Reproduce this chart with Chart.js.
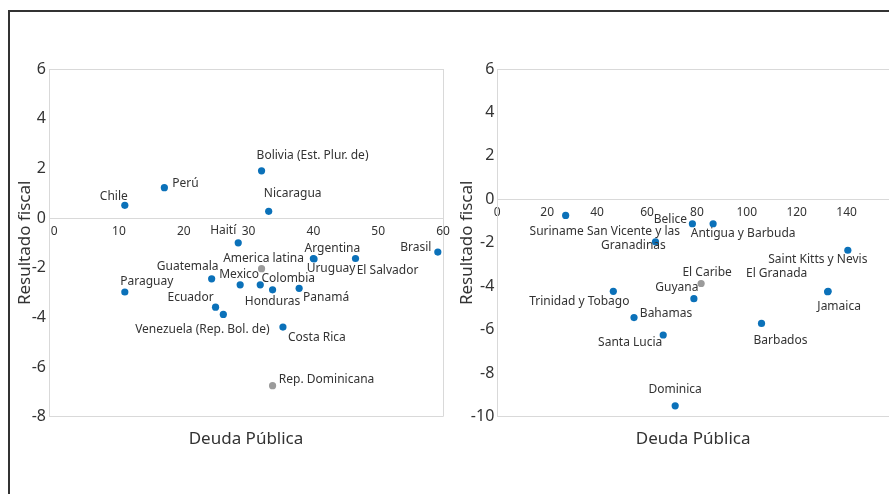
<!DOCTYPE html>
<html>
<head>
<meta charset="utf-8">
<script src="https://cdn.jsdelivr.net/npm/chart.js@4"></script>
<style>
  body { margin: 0; background: #fff; overflow: hidden; }
  #marco { position: absolute; left: 8px; top: 10px; width: 900px; height: 500px; border-top: 2px solid #333; border-left: 2px solid #333; }
  #c1 { position: absolute; left: 0; top: 0; }
  #c2 { position: absolute; left: 440px; top: 0; }
</style>
</head>
<body>
<div id="marco"></div>
<canvas id="c1" width="450" height="494"></canvas>
<canvas id="c2" width="449" height="494"></canvas>
<script>
// ===== America Latina =====
const laPaises = ["Chile", "Perú", "Bolivia (Est. Plur. de)", "Nicaragua", "Haití", "Argentina", "Uruguay",
  "El Salvador", "Brasil", "America latina", "Guatemala", "Mexico", "Colombia", "Honduras", "Panamá",
  "Paraguay", "Ecuador", "Venezuela (Rep. Bol. de)", "Costa Rica", "Rep. Dominicana"];
const laDeuda = [10.9, 17.0, 32.0, 33.1, 28.4, 40.0, 40.1, 46.5, 59.2, 32.0, 24.3, 28.7, 31.8, 33.7, 37.8,
  10.9, 24.9, 26.1, 35.3, 33.7];
const laResultado = [0.51, 1.22, 1.9, 0.27, -1.0, -1.63, -1.65, -1.63, -1.37, -2.04, -2.45, -2.69, -2.69, -2.89, -2.83,
  -2.98, -3.59, -3.88, -4.39, -6.75];

// ===== El Caribe =====
const carPaises = ["Suriname", "Belice", "Antigua y Barbuda", "San Vicente y las\nGranadinas", "Saint Kitts y Nevis",
  "El Caribe", "Guyana", "Trinidad y Tobago", "El Granada", "Jamaica", "Bahamas", "Barbados", "Santa Lucia", "Dominica"];
const carDeuda = [27.4, 78.2, 86.5, 63.4, 140.5, 81.7, 78.8, 46.5, 132.4, 132.6, 54.8, 105.9, 66.5, 71.3];
const carResultado = [-0.74, -1.12, -1.12, -1.95, -2.34, -3.87, -4.57, -4.23, -4.25, -4.23, -5.44, -5.71, -6.24, -9.5];

const grises = ["America latina", "Rep. Dominicana", "El Caribe"];

// posicion de cada etiqueta respecto a su punto [dx, dy]
const laEtiq = [[-11, -9], [21, -4], [51, -15], [24, -18], [-15, -12], [19, -10], [17, 10],
  [32, 12], [-22, -4], [2, -10], [-24, -12], [-1, -10], [28, -6], [0, 12], [27, 9],
  [22, -10], [-25, -10], [-21, 15], [34, 11], [54, -6]];
const carEtiq = [[-9, 16], [-22, -4], [30, 10], [-22, -3], [-30, 9],
  [6, -11], [-17, -11], [-34, 10], [-51, -18], [11, 15], [32, -4], [19, 17], [-33, 8], [0, -16]];

const azul = "#0b71b9";
const gris = "#9b9b9b";
const texto = "#333333";
const linea = "#d9d9d9";
const fuente = "'Noto Sans', sans-serif";

const etiquetas = {
  id: "etiquetas",
  afterDatasetsDraw(chart, args, opts) {
    const ctx = chart.ctx;
    const meta = chart.getDatasetMeta(0);
    ctx.save();
    ctx.font = "12px " + fuente;
    ctx.fillStyle = texto;
    ctx.textAlign = "center";
    ctx.textBaseline = "middle";
    meta.data.forEach((pt, i) => {
      const [dx, dy] = opts.pos[i];
      const lineas = opts.nombres[i].split("\n");
      lineas.forEach((l, k) => {
        ctx.fillText(l, pt.x + dx, pt.y + dy + (k - (lineas.length - 1) / 2) * 14);
      });
    });
    ctx.restore();
  }
};

function grafico(id, paises, deuda, resultado, pos, xMin, xMax, xStep, yMin, yMax, anchoY, tituloY, derecha) {
  new Chart(document.getElementById(id), {
    type: "scatter",
    data: {
      datasets: [{
        data: deuda.map((d, i) => ({ x: d, y: resultado[i] })),
        backgroundColor: paises.map(p => grises.includes(p) ? gris : azul),
        pointRadius: 3.6,
        pointHoverRadius: 3.6,
        borderWidth: 0,
        xAxisID: "x",
        yAxisID: "y"
      }]
    },
    options: {
      responsive: false,
      animation: false,
      events: [],
      layout: { autoPadding: false, padding: { top: 69, right: derecha, bottom: 0, left: 0 } },
      plugins: {
        legend: { display: false },
        tooltip: { enabled: false },
        etiquetas: { nombres: paises, pos: pos }
      },
      scales: {
        x: {
          type: "linear",
          position: { y: 0 },
          min: xMin,
          max: xMax,
          ticks: { stepSize: xStep, includeBounds: false, maxRotation: 0, padding: 6, color: texto, font: { family: fuente, size: 12 } },
          grid: { drawTicks: false, color: c => (c.tick && c.tick.value === xMax) ? linea : "transparent" },
          border: { color: linea },
          afterFit: s => { s.paddingLeft = 0; s.paddingRight = 0; }
        },
        y: {
          min: yMin,
          max: yMax,
          ticks: { stepSize: 2, padding: 3, color: texto, font: { family: fuente, size: 16 } },
          grid: { drawTicks: false, color: c => (c.tick && (c.tick.value === yMin || c.tick.value === yMax)) ? linea : "transparent" },
          border: { color: linea },
          title: { display: true, text: "Resultado fiscal", color: texto, font: { family: fuente, size: 17 }, padding: { top: tituloY, bottom: 0 } },
          afterFit: s => { s.width = anchoY; }
        },
        xt: {
          type: "linear",
          axis: "x",
          position: "bottom",
          ticks: { display: false },
          grid: { display: false },
          border: { display: false },
          title: { display: true, text: "Deuda Pública", color: texto, font: { family: fuente, size: 17 }, padding: { top: 0, bottom: 45 } },
          afterFit: s => { s.height = 77.3; s.paddingLeft = 0; s.paddingRight = 0; }
        }
      }
    },
    plugins: [etiquetas]
  });
}

grafico("c1", laPaises, laDeuda, laResultado, laEtiq, -0.8, 60, 10, -8, 6, 49, 15, 7);
grafico("c2", carPaises, carDeuda, carResultado, carEtiq, 0, 157, 20, -10, 6, 57.3, 17, 0);
</script>
</body>
</html>
